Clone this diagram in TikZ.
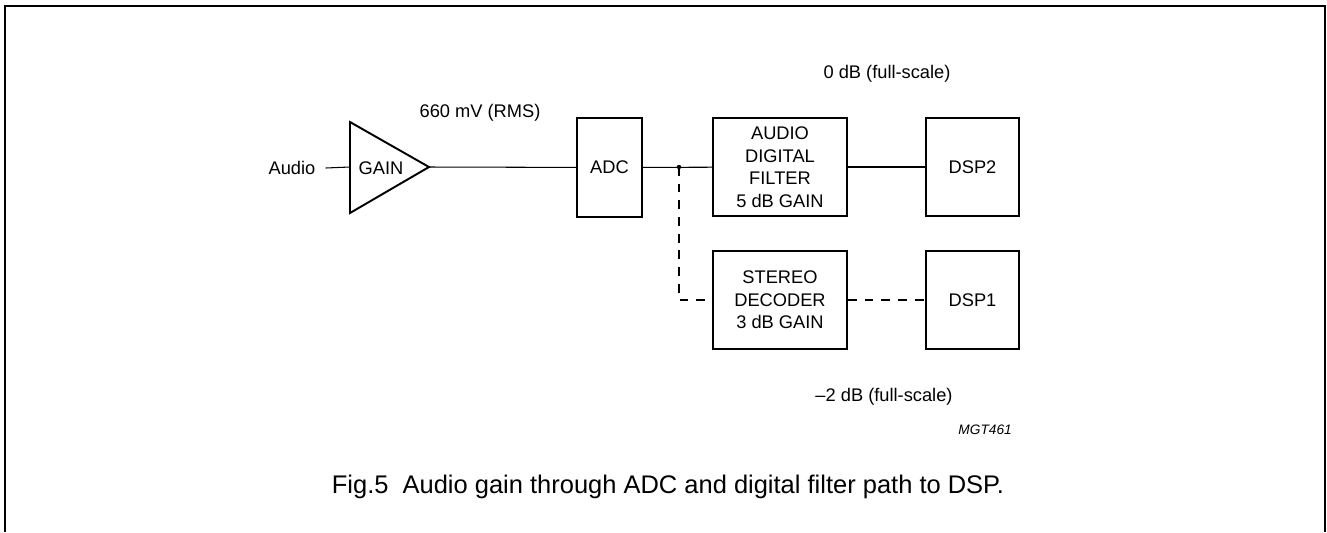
\documentclass[tikz,border=0pt]{standalone}
\usepackage{fontspec}
\setmainfont{Liberation Sans}
\usetikzlibrary{positioning,calc}

\begin{document}
\begin{tikzpicture}[
    x=0.02cm, y=-0.02cm,
    every node/.style={font=\fontsize{10.4}{12.8}\selectfont},
    block/.style={draw, rectangle, line width=1.1pt, inner sep=0pt, align=center, font=\fontsize{10.4}{12.8}\selectfont},
    adcbox/.style={block, minimum width=1.3cm, minimum height=1.98cm},
    wide/.style={block, minimum width=2.68cm, minimum height=1.96cm},
    dspbox/.style={block, minimum width=1.86cm, minimum height=1.96cm},
    wire/.style={line width=0.6pt},
    dashwire/.style={wire, dash pattern=on 5pt off 4.5pt},
    note/.style={font=\fontsize{10.4}{12.8}\selectfont}
]
\useasboundingbox (0,0) rectangle (1327,532);

% Frame
\draw[line width=1.1pt] (5,532) -- (5,6) -- (1325,6) -- (1325,532);

% Input and gain stage
\node[note] (audio) at (292,168) {Audio};
\coordinate (gin) at (350,167);
\coordinate (gout) at (429,167);
\draw[line width=1.1pt, line join=miter] (350,122) -- (gout) -- (350,213) -- cycle;
\node (gain) at (381,168) {GAIN};

% Converter
\node[adcbox] (adc) at (609.5,167.5) {ADC};
\coordinate (split) at (679,167);

% Upper path
\node[wide] (filter) at (780,167) {AUDIO\\DIGITAL\\FILTER\\5 dB GAIN};
\node[dspbox] (dsp2) at (972.5,167) {DSP2};

% Lower path
\node[wide] (decoder) at (780,300) {STEREO\\DECODER\\3 dB GAIN};
\node[dspbox] (dsp1) at (972.5,300) {DSP1};

% Connections
\draw[wire] (audio.east) ++(4,0) -- (gin);
\draw[wire] (gout) -- (adc);
\draw[wire] (adc) -- (filter);
\draw[wire] (filter) -- (dsp2);
\fill (split) circle (2.2);
\draw[dashwire] (split) |- (decoder.west);
\draw[dashwire] (decoder) -- (dsp1);

% Levels
\node[note] (rms) at (480,113) {660 mV (RMS)};
\node[note] (top) at (887,74) {0 dB (full-scale)};
\node[note] (bottom) at (884,397) {--2 dB (full-scale)};
\node[anchor=east, font=\fontsize{7.8}{9}\selectfont\itshape] (code) at (1018,430) {MGT461};

% Caption
\node[font=\fontsize{14.5}{17}\selectfont] (caption) at (668,487) {Fig.5\ \ Audio gain through ADC and digital filter path to DSP.};

\end{tikzpicture}
\end{document}
